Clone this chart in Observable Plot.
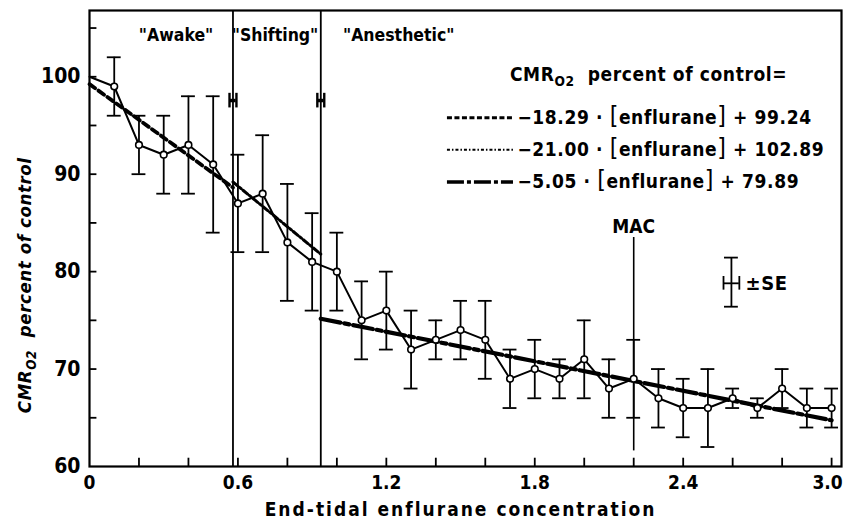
<!DOCTYPE html>
<html><head><meta charset="utf-8">
<script src="https://cdn.jsdelivr.net/npm/d3@7"></script>
<script src="https://cdn.jsdelivr.net/npm/@observablehq/plot@0.6"></script>
<style>
body{margin:0;background:#fff;}
svg{background:#fff;}
</style></head><body><div id="chart"></div>
<script>
// ---- data ----
const concentration = [0,0.1,0.2,0.3,0.4,0.5,0.6,0.7,0.8,0.9,1.0,1.1,1.2,1.3,1.4,1.5,1.6,1.7,1.8,1.9,2.0,2.1,2.2,2.3,2.4,2.5,2.6,2.7,2.8,2.9,3.0];
const cmrPercent    = [100,99,93,92,93,91,87,88,83,81,80,75,76,72,73,74,73,69,70,69,71,68,69,67,66,66,67,66,68,66,66];
const cmrSE         = [0,3,3,4,5,7,5,6,6,5,4,4,4,4,2,3,4,3,3,2,4,3,4,3,3,4,1,1,2,2,2];

const phaseLabels = ['"Awake"', '"Shifting"', '"Anesthetic"'];
const phaseBoundaries = [0.58, 0.935];
const macConcentration = 2.2;

const legendTitle = "CMR_O2 percent of control=";
const fitLabels = ["−18.29 · [enflurane] + 99.24", "−21.00 · [enflurane] + 102.89", "−5.05 · [enflurane] + 79.89"];
const fitStart      = [0, 0.58, 0.935];
const fitEnd        = [0.58, 0.935, 3.0];
const fitStartValue = [99.24, 89.2, 75.17];
const fitEndValue   = [88.63, 81.8, 64.74];

const xTickLabels = [0, 0.6, 1.2, 1.8, 2.4, 3.0];
const xTicks = [0.2,0.4,0.6,0.8,1.0,1.2,1.4,1.6,1.8,2.0,2.2,2.4,2.6,2.8,3.0];
const yTickLabels = [60, 70, 80, 90, 100];
const yTicks = [65,70,75,80,85,90,95,100,105];

const xTitle = "End-tidal enflurane concentration";
const yTitle = "CMR_O2 percent of control";

// ---- build tables ----
const table = concentration.map((x, i) => ({x, y: cmrPercent[i], se: cmrSE[i], lo: cmrPercent[i] - cmrSE[i], hi: cmrPercent[i] + cmrSE[i]}));
const withSE = table.filter(d => d.se > 0);
const capEnds = withSE.flatMap(d => [{x: d.x, y: d.lo}, {x: d.x, y: d.hi}]);
const fits = fitLabels.map((label, i) => ({label, pts: [{x: fitStart[i], y: fitStartValue[i]}, {x: fitEnd[i], y: fitEndValue[i]}]}));

const FONT = "'DejaVu Sans Condensed', 'Liberation Sans Narrow', 'DejaVu Sans', sans-serif";
const fitStyles = [
  {strokeWidth: 3.8, strokeDasharray: "7,4"},
  {strokeWidth: 3, strokeDasharray: "6,2.5,2,2.5"},
  {strokeWidth: 4.2, strokeDasharray: "20,4,5,4"}
];
const legendStyles = [
  {strokeWidth: 3, strokeDasharray: "5,2.5"},
  {strokeWidth: 2, strokeDasharray: "3,2,1.5,2"},
  {strokeWidth: 3.5, strokeDasharray: "17,3,4,3"}
];
const capHalf = 0.028;
const legendX1 = 1.447, legendX2 = 1.714, legendTextX = 1.73;
const legendRowsY = [95.8, 92.5, 89.2];
const fmtX = d => d === 0 ? "0" : d.toFixed(1);

const marks = [
  // phase boundaries
  Plot.ruleX(phaseBoundaries, {y1: 60, y2: 106.8, strokeWidth: 1.8}),
  Plot.ruleY(phaseBoundaries, {x1: d => d - 0.013, x2: d => d + 0.013, y: 97.56, strokeWidth: 3.5}),
  Plot.ruleX(phaseBoundaries.flatMap(d => [d - 0.014, d + 0.014]), {y1: 96.8, y2: 98.3, strokeWidth: 2.4}),
  // MAC line
  Plot.ruleX([macConcentration], {y1: 61.6, y2: 83.5, strokeWidth: 1.6}),
  Plot.text(["MAC"], {x: macConcentration, y: 84.6, text: d => d, fontSize: 19, fontWeight: "bold", lineAnchor: "middle"}),
  // fitted lines
  ...fits.map((f, i) => Plot.line(f.pts, {x: "x", y: "y", stroke: "black", ...fitStyles[i]})),
  // error bars
  Plot.ruleX(withSE, {x: "x", y1: "lo", y2: "hi", strokeWidth: 1.8}),
  Plot.ruleY(capEnds, {x1: d => d.x - capHalf, x2: d => d.x + capHalf, y: "y", strokeWidth: 1.8}),
  // data line and circles
  Plot.line(table, {x: "x", y: "y", strokeWidth: 2}),
  Plot.dot(table.filter(d => d.x > 0), {x: "x", y: "y", r: 3.3, fill: "white", stroke: "black", strokeWidth: 1.6}),
  // ticks (inside)
  Plot.ruleX(xTicks, {y1: 60, y2: 60.85, strokeWidth: 1.8}),
  Plot.ruleY(yTicks, {x1: 0, x2: 0.03, strokeWidth: 1.8}),
  // x tick labels
  Plot.axisX({ticks: xTickLabels.slice(0, -1), tickSize: 0, tickPadding: 9, tickFormat: fmtX, label: null, fontSize: 19, fontWeight: "bold"}),
  Plot.axisX({ticks: xTickLabels.slice(-1), tickSize: 0, tickPadding: 9, tickFormat: fmtX, label: null, fontSize: 19, fontWeight: "bold", dx: -4}),
  Plot.axisY({ticks: yTickLabels, tickSize: 0, tickPadding: 9, tickFormat: d => String(d), label: null, fontSize: 21, fontWeight: "bold"}),
  Plot.frame({strokeWidth: 2.2}),
  // phase labels
  Plot.text(phaseLabels, {x: [0.35, 0.75, 1.25], y: 104.2, text: d => d, fontSize: 17.5, fontWeight: "bold"}),
  // legend
  Plot.text([legendTitle], {x: 2.26, y: 100.2, text: d => d, fontSize: 19, fontWeight: "bold", className: "sub-o2 spaced"}),
  ...legendStyles.map((s, i) => Plot.ruleY([legendRowsY[i]], {x1: legendX1, x2: legendX2, y: d => d, stroke: "black", ...s})),
  Plot.text(fitLabels, {x: legendTextX, y: legendRowsY, text: d => d, textAnchor: "start", fontSize: 19, fontWeight: "bold", className: "eq spaced"}),
  // ±SE key
  Plot.ruleX([2.595], {y1: 76.4, y2: 81.44, strokeWidth: 1.8}),
  Plot.ruleY([76.4, 81.44], {x1: 2.595 - capHalf, x2: 2.595 + capHalf, y: d => d, strokeWidth: 1.8}),
  Plot.ruleY([78.8], {x1: 2.563, x2: 2.627, y: d => d, strokeWidth: 1.8}),
  Plot.ruleX([2.563, 2.627], {y1: 78.1, y2: 79.5, strokeWidth: 1.8}),
  Plot.text(["±SE"], {x: 2.652, y: 78.8, text: d => d, textAnchor: "start", fontSize: 20, fontWeight: "bold", className: "spaced"}),
  // axis titles
  Plot.text([xTitle], {x: 1.5, y: 55.5, text: d => d, fontSize: 19, fontWeight: "bold", className: "xtitle"}),
  Plot.text([yTitle], {x: -0.26, y: 78.6, text: d => d, rotate: -90, fontSize: 18.5, fontWeight: "bold", fontStyle: "italic", className: "sub-o2 ytitle"})
];

const chart = Plot.plot({
  width: 843, height: 529,
  marginLeft: 89, marginRight: 2, marginTop: 10, marginBottom: 63,
  x: {domain: [0, 3.04]},
  y: {domain: [60, 106.8]},
  style: {fontFamily: FONT, fontWeight: "bold", color: "black", background: "white"},
  marks
});
document.getElementById("chart").appendChild(chart);

// subscripts for CMR_O2 and tall brackets
d3.select(chart).selectAll("text").each(function() {
  const t = this.textContent;
  const sel = d3.select(this);
  if (t.includes("CMR_O2")) {
    const rest = t.split("CMR_O2")[1];
    sel.text(null);
    sel.append("tspan").text("CMR");
    sel.append("tspan").attr("dy", "0.35em").attr("font-size", "0.72em").text("O2");
    sel.append("tspan").attr("dy", "-0.25em").text(rest.replace(/^ /, "\u00a0\u00a0"));
  } else if (t.includes("[enflurane]")) {
    const [a, b] = t.split("[enflurane]");
    sel.text(null);
    sel.append("tspan").text(a);
    sel.append("tspan").attr("font-size", "1.3em").attr("font-weight", "normal").text("[");
    sel.append("tspan").text("enflurane");
    sel.append("tspan").attr("font-size", "1.3em").attr("font-weight", "normal").text("]");
    sel.append("tspan").text(b);
  }
});
d3.select(chart).selectAll(".spaced text").style("letter-spacing", "0.6px");
d3.select(chart).selectAll(".xtitle text").style("letter-spacing", "2px");
d3.select(chart).selectAll(".ytitle text").style("letter-spacing", "0.6px");
</script>
</body></html>
